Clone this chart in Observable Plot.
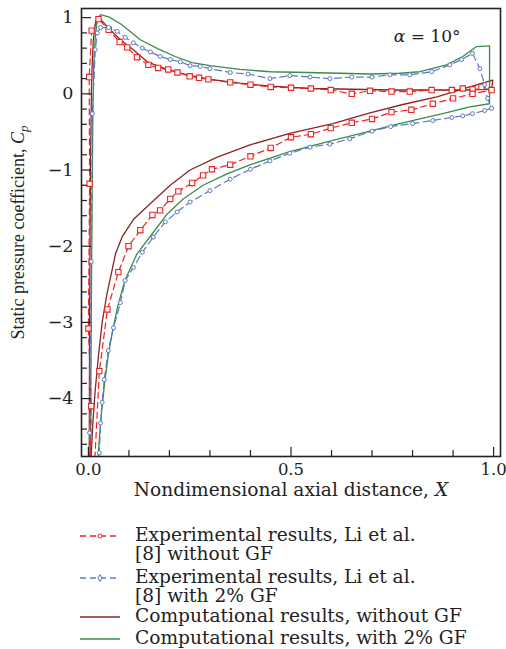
<!DOCTYPE html>
<html><head><meta charset="utf-8">
<script src="https://cdn.jsdelivr.net/npm/d3@7"></script>
<script src="https://cdn.jsdelivr.net/npm/@observablehq/plot@0.6"></script>
<style>
body{margin:0;background:#fff;}
#legend{position:relative;width:506px;height:137px;font-family:"DejaVu Serif",serif;font-size:18.6px;color:#222;}
.entry{position:absolute;left:80px;line-height:19px;}
.entry svg{position:absolute;left:0;top:0;}
.entry .txt{position:absolute;left:55px;top:0;white-space:nowrap;}
</style>
</head><body>
<div id="chart"></div>
<div id="legend"></div>
<script>
// ---- data ----
const seriesNames = [
  "Experimental results, Li et al.\n[8] without GF",
  "Experimental results, Li et al.\n[8] with 2% GF",
  "Computational results, without GF",
  "Computational results, with 2% GF"
];
const seriesColors = ["#ee2222", "#5b79c6", "#8c2424", "#3b8c46"];

// Experimental, without GF (red squares)
const expNoGF_X = [0.004,0.007,0.0,0.003,0.002,0.008,0.025,0.05,0.077,0.096,0.12,0.148,0.172,0.197,0.22,0.25,0.273,0.296,0.35,0.4,0.45,0.5,0.549,0.598,0.65,0.695,0.748,0.793,0.847,0.897,0.924,0.948,0.97,0.995,0.948,0.9,0.85,0.797,0.748,0.7,0.65,0.598,0.549,0.5,0.45,0.4,0.35,0.305,0.283,0.256,0.222,0.202,0.177,0.158,0.128,0.099,0.074,0.047,0.027,0.014];
const expNoGF_Cp = [-5.0,-4.1,-3.08,-1.18,0.22,0.83,0.98,0.84,0.68,0.61,0.48,0.38,0.34,0.32,0.28,0.23,0.21,0.19,0.15,0.12,0.09,0.08,0.07,0.05,0.0,0.04,0.03,0.03,0.05,0.05,0.07,0.06,0.09,0.05,0.0,-0.06,-0.13,-0.21,-0.24,-0.33,-0.38,-0.45,-0.53,-0.57,-0.71,-0.82,-0.93,-0.99,-1.07,-1.17,-1.28,-1.38,-1.53,-1.59,-1.79,-2.0,-2.34,-2.83,-3.64,-5.0];

// Experimental, with 2% GF (blue)
const expGF_X = [0.002,0.003,0.007,0.01,0.017,0.022,0.03,0.05,0.071,0.091,0.111,0.133,0.153,0.177,0.202,0.227,0.251,0.276,0.3,0.35,0.394,0.448,0.497,0.547,0.596,0.65,0.7,0.744,0.793,0.847,0.892,0.921,0.948,0.966,0.978,0.985,0.995,0.978,0.948,0.924,0.897,0.85,0.8,0.746,0.7,0.645,0.596,0.547,0.497,0.448,0.4,0.35,0.3,0.251,0.219,0.19,0.16,0.133,0.111,0.091,0.079,0.062,0.049,0.039,0.034,0.03,0.027,0.025];
const expGF_Cp = [-5.0,-4.45,-2.2,-0.26,0.58,0.8,0.87,0.87,0.82,0.74,0.67,0.6,0.55,0.49,0.45,0.42,0.37,0.36,0.33,0.28,0.26,0.20,0.24,0.22,0.20,0.22,0.22,0.25,0.25,0.29,0.38,0.45,0.53,0.33,0.12,-0.06,-0.19,-0.22,-0.26,-0.29,-0.31,-0.35,-0.39,-0.43,-0.49,-0.59,-0.66,-0.70,-0.78,-0.88,-0.99,-1.12,-1.27,-1.42,-1.55,-1.68,-1.88,-2.08,-2.28,-2.45,-2.74,-3.07,-3.37,-3.75,-4.05,-4.32,-4.71,-5.0];

// Computational, without GF (dark red)
const compNoGF_X = [0.002,0.003,0.005,0.008,0.012,0.018,0.025,0.05,0.079,0.111,0.145,0.194,0.243,0.30,0.374,0.45,0.55,0.65,0.75,0.85,0.93,0.97,0.995,0.998,0.941,0.86,0.776,0.695,0.603,0.497,0.399,0.318,0.251,0.202,0.153,0.111,0.084,0.067,0.055,0.045,0.034,0.025,0.017,0.011,0.007,0.006];
const compNoGF_Cp = [-5.0,-3.0,-1.0,0.2,0.7,0.95,1.01,0.86,0.71,0.58,0.42,0.32,0.25,0.19,0.14,0.10,0.07,0.06,0.05,0.05,0.05,0.06,0.06,0.18,0.09,-0.04,-0.14,-0.25,-0.39,-0.52,-0.67,-0.83,-1.0,-1.2,-1.44,-1.65,-1.87,-2.1,-2.4,-2.65,-3.0,-3.43,-3.88,-4.32,-4.75,-5.0];

// Computational, with 2% GF (green)
const compGF_X = [0.005,0.007,0.009,0.011,0.013,0.017,0.022,0.03,0.05,0.079,0.1,0.128,0.172,0.214,0.256,0.3,0.374,0.45,0.54,0.62,0.695,0.768,0.818,0.884,0.924,0.958,0.99,0.99,0.941,0.882,0.818,0.76,0.695,0.603,0.497,0.4,0.342,0.283,0.234,0.194,0.16,0.12,0.09,0.072,0.06,0.049,0.04,0.032,0.026,0.022];
const compGF_Cp = [-5.0,-3.0,-1.5,-0.3,0.36,0.75,0.97,1.04,1.01,0.92,0.83,0.71,0.59,0.49,0.41,0.37,0.32,0.29,0.28,0.27,0.26,0.27,0.29,0.38,0.49,0.62,0.63,-0.13,-0.17,-0.25,-0.33,-0.40,-0.49,-0.61,-0.76,-0.93,-1.05,-1.2,-1.38,-1.58,-1.82,-2.1,-2.45,-2.8,-3.1,-3.43,-3.8,-4.2,-4.6,-5.0];

// ticks
const xMajorTicks = [0, 0.5, 1.0];
const xMinorTicks = [0.1, 0.2, 0.3, 0.4, 0.6, 0.7, 0.8, 0.9];
const yMajorTicks = [1, 0, -1, -2, -3, -4];
const yMinorTicks = [0.8,0.6,0.4,0.2,-0.2,-0.4,-0.6,-0.8,-1.2,-1.4,-1.6,-1.8,-2.2,-2.4,-2.6,-2.8,-3.2,-3.4,-3.6,-3.8,-4.2,-4.4,-4.6];

const xLabelText = "Nondimensional axial distance, ";
const yLabelText = "Static pressure coefficient, ";
const annotText = "α = 10°";

// ---- build ----
const toRows = (xs, ys) => xs.map((x, i) => ({x, y: ys[i]}));
const expNoGF = toRows(expNoGF_X, expNoGF_Cp);
const expGF = toRows(expGF_X, expGF_Cp);
const compNoGF = toRows(compNoGF_X, compNoGF_Cp);
const compGF = toRows(compGF_X, compGF_Cp);

const frameH = 448, frameW = 419;
const fmtY = d => d < 0 ? "\u2212" + Math.abs(d) : String(d);

const svg = Plot.plot({
  width: 506, height: 512,
  marginLeft: 81, marginRight: 6, marginTop: 8, marginBottom: 56,
  x: {domain: [-0.017, 1.017]},
  y: {domain: [-4.76, 1.12]},
  style: {fontFamily: "'DejaVu Serif', serif", fontSize: "17px", color: "#222", background: "white"},
  marks: [
    Plot.line(compNoGF, {x: "x", y: "y", stroke: seriesColors[2], strokeWidth: 1.3, clip: true}),
    Plot.line(compGF, {x: "x", y: "y", stroke: seriesColors[3], strokeWidth: 1.3, clip: true}),
    Plot.line(expNoGF, {x: "x", y: "y", stroke: seriesColors[0], strokeWidth: 1.2, strokeDasharray: "6,4", clip: true}),
    Plot.line(expGF, {x: "x", y: "y", stroke: seriesColors[1], strokeWidth: 1.2, strokeDasharray: "7,4", clip: true}),
    Plot.dot(expNoGF, {x: "x", y: "y", symbol: "square", r: 3, stroke: seriesColors[0], fill: "white", strokeWidth: 1.1, clip: true}),
    Plot.dot(expGF, {x: "x", y: "y", symbol: "circle", r: 2, stroke: seriesColors[1], fill: "white", strokeWidth: 1, clip: true}),
    Plot.ruleX(xMajorTicks, {x: d => d, insetTop: frameH - 9, stroke: "#222", strokeWidth: 1.2}),
    Plot.ruleX(xMinorTicks, {x: d => d, insetTop: frameH - 6, stroke: "#222", strokeWidth: 1.2}),
    Plot.ruleY(yMajorTicks, {y: d => d, insetRight: frameW - 10, stroke: "#222", strokeWidth: 1.2}),
    Plot.ruleY(yMinorTicks, {y: d => d, insetRight: frameW - 6, stroke: "#222", strokeWidth: 1.2}),
    Plot.axisX(xMajorTicks, {tickSize: 0, tickPadding: 7, fontSize: 16.5, tickFormat: d3.format(".1f"), label: null}),
    Plot.axisY(yMajorTicks, {tickSize: 0, tickPadding: 8, fontSize: 17.5, tickFormat: fmtY, label: null}),
    Plot.frame({stroke: "#222", strokeWidth: 1.6}),
    Plot.text([xLabelText], {text: d => d, frameAnchor: "bottom", dy: 39, dx: 0, fontSize: 18.6}),
    Plot.text([yLabelText], {text: d => d, frameAnchor: "left", textAnchor: "middle", rotate: -90, dx: -63, dy: 0, fontFamily: "'Liberation Serif', serif", fontSize: 18}),
    Plot.text([annotText], {text: d => d, frameAnchor: "top-right", textAnchor: "end", dx: -40, dy: 21, fontSize: 17})
  ]
});
document.getElementById("chart").appendChild(svg);

// italic symbols in labels
const S = d3.select(svg);
S.selectAll("text").filter(function(){ return this.textContent === yLabelText; }).each(function(){
  const t = d3.select(this);
  t.append("tspan").attr("font-style", "italic").text("C");
  t.append("tspan").attr("font-style", "italic").attr("font-size", 13).attr("dy", 4).text("p");
});
S.selectAll("text").filter(function(){ return this.textContent === xLabelText; }).each(function(){
  d3.select(this).append("tspan").attr("font-style", "italic").text("X");
});
S.selectAll("text").filter(function(){ return this.textContent === annotText; }).each(function(){
  const t = d3.select(this);
  t.text(null);
  t.append("tspan").attr("font-style", "italic").text(annotText.slice(0, 1));
  t.append("tspan").text(annotText.slice(1));
});

// ---- legend ----
const legendTops = [12.5, 54.5, 93.5, 115.5];
const legend = d3.select("#legend");
seriesNames.forEach((name, i) => {
  const e = legend.append("div").attr("class", "entry").style("top", legendTops[i] + "px");
  const sw = e.append("svg").attr("width", 42).attr("height", 20);
  sw.append("line").attr("x1", 0).attr("x2", 40).attr("y1", 11).attr("y2", 11)
    .attr("stroke", seriesColors[i]).attr("stroke-width", 1.3)
    .attr("stroke-dasharray", i < 2 ? "6,4" : null);
  if (i === 0) sw.append("circle").attr("cx", 20).attr("cy", 11).attr("r", 2).attr("fill", "white").attr("stroke", seriesColors[i]);
  if (i === 1) sw.append("path").attr("d", d3.symbol(d3.symbolDiamond, 14)()).attr("transform", "translate(20,11)").attr("fill", "white").attr("stroke", seriesColors[i]);
  const tx = e.append("div").attr("class", "txt");
  name.split("\n").forEach(line => tx.append("div").text(line));
});
</script>
</body></html>
